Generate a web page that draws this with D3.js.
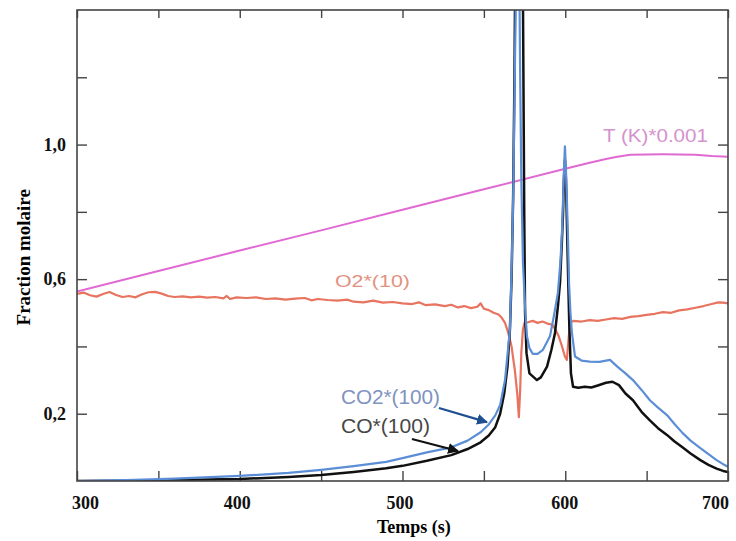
<!DOCTYPE html>
<html>
<head>
<meta charset="utf-8">
<script src="https://cdn.jsdelivr.net/npm/d3@7"></script>
<style>
  body { margin: 0; background: #fff; }
  .tick text { font-family: "Liberation Serif", serif; font-weight: bold; font-size: 18px; fill: #111; }
  .tick line { stroke: #444; stroke-width: 1.4; }
  .domain { display: none; }
  .note { font-family: "Liberation Sans", Arial, sans-serif; }
</style>
</head>
<body>
<svg id="chart" width="736" height="541"></svg>
<script>
// ---- data ----
var xTicks = [300, 350, 400, 450, 500, 550, 600, 650, 700];
var xLabels = [300, 400, 500, 600, 700];
var yTicks = [0.2, 0.4, 0.6, 0.8, 1.0, 1.2];
var yLabels = [0.2, 0.6, 1.0];

// T (K)*0.001
var tempT = [300, 350, 400, 450, 500, 550, 600, 615, 625, 632, 640, 660, 680, 690, 700];
var tempV = [0.563, 0.624, 0.685, 0.745, 0.806, 0.867, 0.928, 0.946, 0.957, 0.964, 0.970, 0.971, 0.970, 0.966, 0.964];

// O2*(10)
var o2T = [300, 304, 308, 312, 316, 320, 324, 328, 332, 336, 340, 344, 348, 352, 356, 360, 365, 370, 375, 380,
  385, 390, 392, 394, 398, 404, 410, 416, 422, 428, 434, 440, 444, 448, 454, 460, 466, 470, 476, 482,
  488, 494, 500, 506, 510, 514, 520, 526, 530, 534, 538, 542, 546, 548, 550, 553, 556, 559, 561, 563,
  565, 567, 569, 570.5, 571.5, 572.3, 573, 574, 575, 577, 580, 583, 586, 589, 592, 594, 596, 598, 599.8, 601,
  602, 603, 605, 610, 615, 620, 625, 630, 635, 640, 645, 650, 655, 660, 665, 670, 675, 680, 685, 690, 694, 697, 700];
var o2V = [0.556, 0.560, 0.552, 0.548, 0.556, 0.562, 0.553, 0.547, 0.550, 0.546, 0.555, 0.561, 0.562, 0.557, 0.550, 0.547, 0.549, 0.546, 0.548, 0.545,
  0.547, 0.543, 0.550, 0.541, 0.546, 0.544, 0.546, 0.541, 0.543, 0.539, 0.542, 0.544, 0.537, 0.541, 0.538, 0.536, 0.539, 0.533, 0.531, 0.536,
  0.530, 0.532, 0.528, 0.526, 0.531, 0.523, 0.525, 0.520, 0.524, 0.516, 0.520, 0.514, 0.518, 0.528, 0.512, 0.508, 0.500, 0.495, 0.485, 0.470,
  0.440, 0.400, 0.330, 0.260, 0.190, 0.270, 0.380, 0.450, 0.470, 0.472, 0.476, 0.470, 0.474, 0.468, 0.465, 0.450, 0.430, 0.400, 0.370, 0.360,
  0.420, 0.470, 0.476, 0.474, 0.478, 0.476, 0.480, 0.484, 0.482, 0.488, 0.490, 0.494, 0.497, 0.502, 0.500, 0.507, 0.510, 0.515, 0.520, 0.526, 0.531, 0.530, 0.528];

// CO*(100)
var coT = [300, 330, 360, 400, 430, 450, 470, 490, 500, 515, 530, 540, 548, 553, 557, 560, 562.5, 564.5, 566, 567,
  568, 568.8, 569.4, 571, 573, 573.8, 574.3, 574.8, 575.3, 576.2, 578, 582.6, 585, 588.8, 591.5, 593.7, 595.5, 596.8, 598, 598.6,
  599.2, 599.8, 600.4, 601.1, 601.8, 602.5, 603.5, 604.8, 608, 612, 616, 620, 625, 629, 633, 637, 641.6, 647, 652, 657,
  662.5, 667, 672, 677, 683, 688, 693, 697, 700];
var coV = [0.0, 0.001, 0.003, 0.006, 0.012, 0.018, 0.027, 0.038, 0.045, 0.060, 0.077, 0.095, 0.115, 0.135, 0.160, 0.200, 0.260, 0.340, 0.450, 0.600,
  0.850, 1.200, 1.600, 2.000, 2.000, 1.600, 1.200, 0.800, 0.500, 0.380, 0.320, 0.300, 0.308, 0.340, 0.390, 0.440, 0.520, 0.590, 0.720, 0.790,
  0.900, 0.955, 0.900, 0.750, 0.600, 0.460, 0.320, 0.280, 0.277, 0.280, 0.278, 0.284, 0.292, 0.295, 0.285, 0.260, 0.240, 0.205, 0.180, 0.157,
  0.137, 0.118, 0.100, 0.082, 0.062, 0.048, 0.037, 0.030, 0.027];

// CO2*(100)
var co2T = [300, 330, 360, 400, 430, 450, 470, 490, 500, 515, 530, 540, 548, 553, 557, 560, 563, 566, 567, 568,
  569, 569.8, 571, 571.8, 572.3, 573, 574, 575.5, 576.5, 578, 580, 583, 586.3, 590.6, 593, 595.5, 597, 598, 599.2, 599.8, 600.4, 601.1,
  601.8, 602.3, 603.2, 604.1, 606, 610, 615, 621, 627.5, 632, 637, 641.6, 647, 652, 657, 662.5, 667, 672, 677, 683,
  688, 693, 697, 700];
var co2V = [0.0, 0.003, 0.007, 0.015, 0.024, 0.033, 0.044, 0.057, 0.068, 0.085, 0.100, 0.120, 0.145, 0.168, 0.195, 0.226, 0.300, 0.450, 0.620, 0.840,
  1.200, 1.500, 1.700, 1.500, 1.200, 0.900, 0.650, 0.500, 0.430, 0.395, 0.378, 0.378, 0.390, 0.430, 0.490, 0.560, 0.650, 0.740, 0.920, 0.995, 0.930, 0.820,
  0.700, 0.590, 0.500, 0.440, 0.370, 0.358, 0.355, 0.354, 0.360, 0.340, 0.320, 0.300, 0.270, 0.240, 0.218, 0.196, 0.170, 0.143, 0.120, 0.098,
  0.080, 0.062, 0.050, 0.042];

var series = [
  { name: "T", t: tempT, v: tempV, color: "#e06ad2", width: 2 },
  { name: "O2", t: o2T, v: o2V, color: "#e8735f", width: 2.2 },
  { name: "CO", t: coT, v: coV, color: "#111111", width: 2.5 },
  { name: "CO2", t: co2T, v: co2V, color: "#5b8ed6", width: 2.2 }
];

// ---- layout ----
var svg = d3.select("#chart");
var margin = { top: 10, right: 8, bottom: 60, left: 77 };
var width = 736 - margin.left - margin.right,
    height = 541 - margin.top - margin.bottom;

var x = d3.scaleLinear().domain([300, 700]).range([0, width]);
var y = d3.scaleLinear().domain([0, 1.4]).range([height, 0]);

var g = svg.append("g").attr("transform", "translate(" + margin.left + "," + margin.top + ")");

var defs = svg.append("defs");
defs.append("clipPath").attr("id", "plotclip")
  .append("rect").attr("width", width).attr("height", height);

var fmt = function(d) { return yLabels.indexOf(d) >= 0 ? d3.format(".1f")(d).replace(".", ",") : ""; };

// axes, ticks pointing inward
g.append("g").attr("class", "axis y-left")
  .call(d3.axisLeft(y).tickValues(yTicks).tickSizeInner(-10).tickSizeOuter(0).tickPadding(11).tickFormat(fmt));
g.append("g").attr("class", "axis y-right").attr("transform", "translate(" + width + ",0)")
  .call(d3.axisRight(y).tickValues(yTicks).tickSizeInner(-10).tickSizeOuter(0).tickFormat(""));
g.append("g").attr("class", "axis x-bottom").attr("transform", "translate(0," + height + ")")
  .call(d3.axisBottom(x).tickValues(xTicks).tickSizeInner(-10).tickSizeOuter(0).tickPadding(15)
    .tickFormat(function(d) { return xLabels.indexOf(d) >= 0 ? d : ""; }));
g.append("g").attr("class", "axis x-top")
  .call(d3.axisTop(x).tickValues(xTicks).tickSizeInner(-8).tickSizeOuter(0).tickFormat(""));

var labelShift = { 300: 8, 400: -3, 500: -3, 600: -1, 700: -13 };
g.selectAll(".x-bottom .tick text")
  .attr("dx", function(d) { return labelShift[d] || 0; });

// curves
var plot = g.append("g").attr("clip-path", "url(#plotclip)");
var line = d3.line()
  .x(function(d) { return x(d[0]); })
  .y(function(d) { return y(d[1]); });

series.forEach(function(s) {
  plot.append("path")
    .datum(d3.zip(s.t, s.v))
    .attr("fill", "none")
    .attr("stroke", s.color)
    .attr("stroke-width", s.width)
    .attr("stroke-linejoin", "round")
    .attr("d", line);
});

// frame
g.append("rect").attr("width", width).attr("height", height)
  .attr("fill", "none").attr("stroke", "#444").attr("stroke-width", 1.6);

// annotations (scanned labels are wide, so stretch them to the measured length)
var notes = [
  { text: "T (K)*0.001", t: 623.2, v: 1.008, color: "#d592cd", size: 18, len: 105 },
  { text: "O2*(10)", t: 458.5, v: 0.577, color: "#e3917f", size: 17, len: 75 },
  { text: "CO2*(100)", t: 462.2, v: 0.229, color: "#7f93bf", size: 21, len: 99 },
  { text: "CO*(100)", t: 462.2, v: 0.143, color: "#474747", size: 20, len: 89 }
];
g.selectAll(".note").data(notes).enter().append("text")
  .attr("class", "note")
  .attr("x", function(d) { return x(d.t); })
  .attr("y", function(d) { return y(d.v); })
  .attr("fill", function(d) { return d.color; })
  .attr("textLength", function(d) { return d.len; })
  .attr("lengthAdjust", "spacingAndGlyphs")
  .style("font-size", function(d) { return d.size + "px"; })
  .text(function(d) { return d.text; });

var arrows = [
  { t1: 522.4, v1: 0.217, t2: 551.9, v2: 0.175, color: "#1d4f91", id: "headBlue" },
  { t1: 505.8, v1: 0.125, t2: 534.1, v2: 0.089, color: "#111111", id: "headBlack" }
];
arrows.forEach(function(a) {
  defs.append("marker").attr("id", a.id)
    .attr("viewBox", "0 0 10 10").attr("refX", 9).attr("refY", 5)
    .attr("markerWidth", 5).attr("markerHeight", 5).attr("orient", "auto")
    .append("path").attr("d", "M0,0 L10,5 L0,10 z").attr("fill", a.color);
  g.append("line")
    .attr("x1", x(a.t1)).attr("y1", y(a.v1))
    .attr("x2", x(a.t2)).attr("y2", y(a.v2))
    .attr("stroke", a.color).attr("stroke-width", 2.2)
    .attr("marker-end", "url(#" + a.id + ")");
});

// axis titles
svg.append("text")
  .attr("x", margin.left + x(507)).attr("y", 533)
  .attr("text-anchor", "middle")
  .style("font-family", "Liberation Serif, serif").style("font-weight", "bold").style("font-size", "18px")
  .text("Temps (s)");
svg.append("text")
  .attr("transform", "translate(30," + (margin.top + y(0.665)) + ") rotate(-90)")
  .attr("text-anchor", "middle")
  .style("font-family", "Liberation Serif, serif").style("font-weight", "bold").style("font-size", "19px")
  .text("Fraction molaire");
</script>
</body>
</html>
